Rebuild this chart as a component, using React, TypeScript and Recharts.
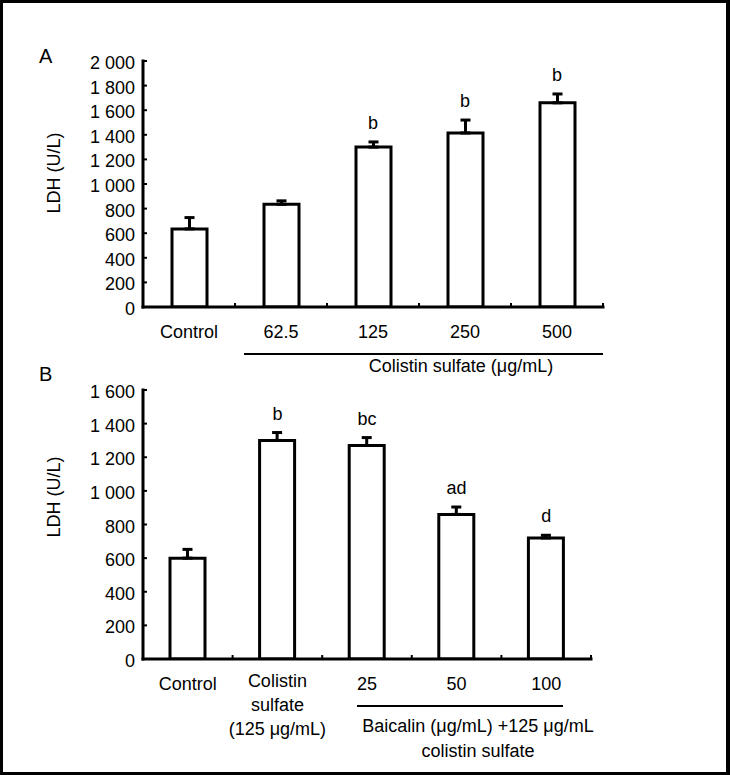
import { ComposedChart, Bar, Line, ErrorBar, LabelList, XAxis, YAxis } from "recharts";

const FONT = '"Liberation Sans", Arial, Helvetica, sans-serif';

// panel A: colistin sulfate dose series
const categoriesA = ["Control", "62.5", "125", "250", "500"];
const valuesA = [635, 835, 1300, 1415, 1660];
const errorsA = [92, 28, 42, 105, 72];
const lettersA = ["", "", "b", "b", "b"];
const yTicksA = [0, 200, 400, 600, 800, 1000, 1200, 1400, 1600, 1800, 2000];

// panel B: baicalin + colistin
const categoriesB = ["Control", "Colistin\nsulfate\n(125 μg/mL)", "25", "50", "100"];
const valuesB = [600, 1300, 1270, 860, 720];
const errorsB = [52, 47, 47, 44, 16];
const lettersB = ["", "b", "bc", "ad", "d"];
const yTicksB = [0, 200, 400, 600, 800, 1000, 1200, 1400, 1600];

function buildRows(cats: string[], vals: number[], errs: number[], sig: string[]) {
  return cats.map((name, i) => ({
    name,
    value: vals[i],
    err: [0, errs[i]],
    top: vals[i] + errs[i],
    sig: sig[i],
  }));
}

const rowsA = buildRows(categoriesA, valuesA, errorsA, lettersA);
const rowsB = buildRows(categoriesB, valuesB, errorsB, lettersB);

function fmt(n: number) {
  if (n < 1000) return String(n);
  return `${Math.floor(n / 1000)} ${String(n % 1000).padStart(3, "0")}`;
}

function YTick(props: any) {
  const { x, y, payload } = props;
  return (
    <g>
      <line x1={x} x2={x + 4} y1={y} y2={y} stroke="#000" strokeWidth={2} />
      <text x={x - 8} y={y + 8} textAnchor="end" fontSize={18} fill="#000">
        {fmt(payload.value)}
      </text>
    </g>
  );
}

function makeXTick(half: number) {
  return (props: any) => {
    const { x, y, payload } = props;
    const lines = String(payload.value).split("\n");
    const base = y + (lines.length > 1 ? 28 : 31);
    return (
      <g>
        <line x1={x + half} x2={x + half} y1={y - 1} y2={y - 4} stroke="#000" strokeWidth={2} />
        <text textAnchor="middle" fontSize={18} fill="#000">
          {lines.map((l, i) => (
            <tspan key={i} x={x} y={base + i * 24}>
              {l}
            </tspan>
          ))}
        </text>
      </g>
    );
  };
}

const axisLine = { stroke: "#000", strokeWidth: 3, strokeLinecap: "square" as const };

function Panel(props: {
  rows: any[];
  height: number;
  margin: { top: number; right: number; bottom: number; left: number };
  max: number;
  ticks: number[];
  half: number;
}) {
  const { rows, height, margin, max, ticks, half } = props;
  return (
    <ComposedChart width={730} height={height} data={rows} margin={margin}>
      <XAxis
        dataKey="name"
        interval={0}
        height={30}
        tickSize={0}
        tickMargin={0}
        tickLine={false}
        axisLine={axisLine}
        tick={makeXTick(half)}
      />
      <YAxis
        type="number"
        domain={[0, max]}
        ticks={ticks}
        interval={0}
        width={60}
        tickSize={0}
        tickMargin={0}
        tickLine={false}
        axisLine={axisLine}
        tick={YTick}
        allowDataOverflow
      />
      <Bar dataKey="value" fill="#fff" stroke="#000" strokeWidth={3} barSize={35} isAnimationActive={false}>
        <ErrorBar dataKey="err" direction="y" width={5} stroke="#000" strokeWidth={3} />
      </Bar>
      <Line dataKey="top" stroke="none" dot={false} activeDot={false} isAnimationActive={false}>
        <LabelList dataKey="sig" position="top" offset={13} fontSize={18} fill="#000" />
      </Line>
    </ComposedChart>
  );
}

const abs = (s: React.CSSProperties): React.CSSProperties => ({ position: "absolute", ...s });

export default function App() {
  return (
    <div style={abs({ left: 0, top: 0, width: 730, height: 775, background: "#fff", fontFamily: FONT, color: "#000" })}>
      <div style={abs({ left: 0, top: 0 })}>
        <Panel
          rows={rowsA}
          height={380}
          margin={{ top: 61, right: 127, bottom: 43, left: 83 }}
          max={2000}
          ticks={yTicksA}
          half={46}
        />
      </div>
      <div style={abs({ left: 0, top: 360 })}>
        <Panel
          rows={rowsB}
          height={415}
          margin={{ top: 30, right: 139, bottom: 86, left: 83 }}
          max={1600}
          ticks={yTicksB}
          half={44.8}
        />
      </div>

      <div style={abs({ left: 39, top: 46, fontSize: 20, lineHeight: "20px" })}>A</div>
      <div style={abs({ left: 39, top: 364, fontSize: 20, lineHeight: "20px" })}>B</div>

      <div style={abs({ left: -46, top: 163, width: 200, height: 20, lineHeight: "20px", fontSize: 18, textAlign: "center", transform: "rotate(-90deg)" })}>
        LDH (U/L)
      </div>
      <div style={abs({ left: -46, top: 487, width: 200, height: 20, lineHeight: "20px", fontSize: 18, textAlign: "center", transform: "rotate(-90deg)" })}>
        LDH (U/L)
      </div>

      <div style={abs({ left: 244, top: 353, width: 359, height: 2, background: "#000" })} />
      <div style={abs({ left: 311, top: 354, width: 300, lineHeight: "25px", fontSize: 18, textAlign: "center" })}>
        Colistin sulfate (μg/mL)
      </div>

      <div style={abs({ left: 357, top: 705, width: 206, height: 2, background: "#000" })} />
      <div style={abs({ left: 328, top: 714, width: 300, lineHeight: "25px", fontSize: 18, textAlign: "center" })}>
        Baicalin (μg/mL) +125 μg/mL
        <br />
        colistin sulfate
      </div>

      <div style={abs({ left: 0, top: 0, width: 730, height: 775, boxSizing: "border-box", border: "3px solid #000", borderRightWidth: 4 })} />
    </div>
  );
}
